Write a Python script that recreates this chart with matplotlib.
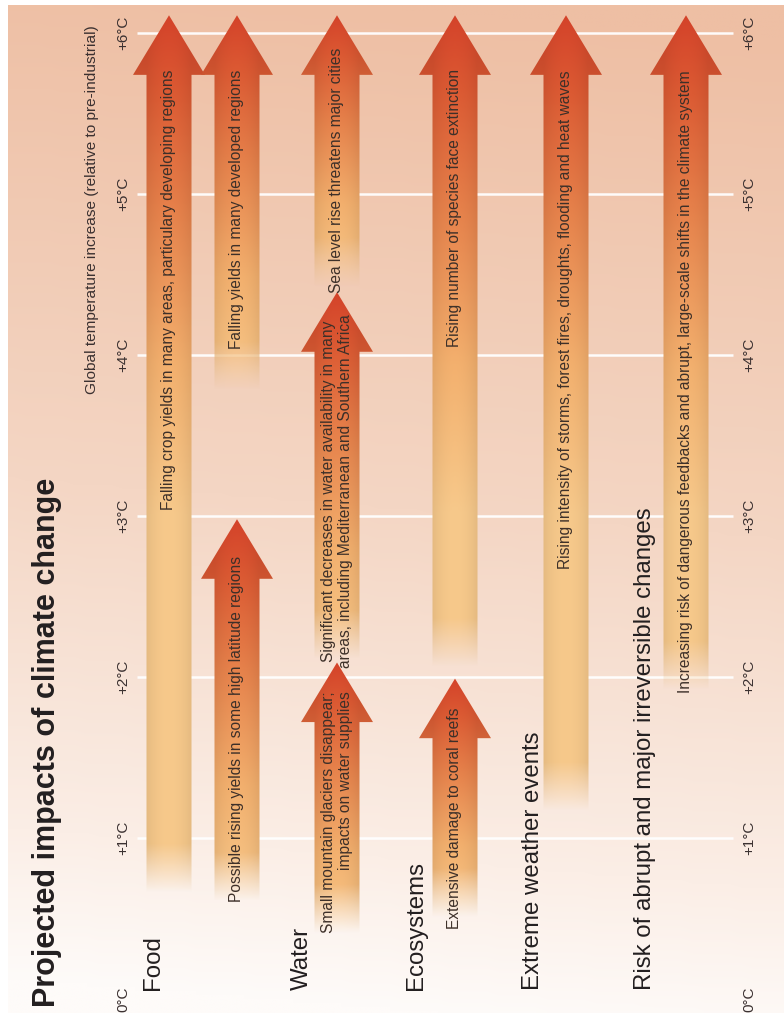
import numpy as np
import matplotlib.pyplot as plt
from matplotlib.colors import LinearSegmentedColormap
from matplotlib.patches import Polygon

plt.rcParams['font.family'] = ['Liberation Sans', 'DejaVu Sans']

# data
temp_ticks = [0, 1, 2, 3, 4, 5, 6]
tick_labels = ['0°C', '+1°C', '+2°C', '+3°C', '+4°C', '+5°C', '+6°C']

categories = ['Food', 'Water', 'Ecosystems', 'Extreme weather events',
              'Risk of abrupt and major irreversible changes']

impact_text = [
    'Falling crop yields in many areas, particulary developing regions',
    'Falling yields in many developed regions',
    'Possible rising yields in some high latitude regions',
    'Sea level rise threatens major cities',
    'Significant decreases in water availability in many\nareas, including Mediterranean and Southern Africa',
    'Small mountain glaciers disappear;\nimpacts on water supplies',
    'Rising number of species face extinction',
    'Extensive damage to coral reefs',
    'Rising intensity of storms, forest fires, droughts, flooding and heat waves',
    'Increasing risk of dangerous feedbacks and abrupt, large-scale shifts in the climate system',
]
impact_col = [0, 1, 1, 2, 2, 2, 3, 3, 4, 5]
impact_from = [0.66, 3.78, 0.61, 4.43, 2.11, 0.41, 2.06, 0.51, 1.17, 1.92]
impact_to = [6.11, 6.11, 2.98, 6.11, 4.39, 2.09, 6.11, 1.99, 6.11, 6.11]

# layout (x in pixels across the page, y in degrees)
col_x = [169, 237, 337, 455, 566, 686]
cat_x = [153, 302, 416, 533, 645]
text_top = [5.77, 5.77, 2.75, 5.91, 4.25, 1.91, 5.78, 1.81, 5.77, 5.77]
text_align = ['center'] * 5 + ['right'] + ['center'] * 4
px = 161.0
y_lo, y_hi = (999 - 1025) / px, 999 / px

fig = plt.figure(figsize=(7.84, 10.25), dpi=100)
ax = fig.add_axes([0, 0, 1, 1])
ax.set_axis_off()

# background
bg_cmap = LinearSegmentedColormap.from_list(
    'bg', [(0, '#fefbf9'), (0.15, '#fbeee6'), (0.5, '#f4d6c4'), (1, '#eebfa4')])
g = np.linspace(0, 1, 256)[:, None] * np.ones((1, 64))
xs = np.linspace(0, 1, 64)[None, :]
bg = bg_cmap(np.clip(g + 0.06 * xs - 0.03, 0, 1))
ax.imshow(bg, extent=[8, 784, (999 - 1013) / px, (999 - 5) / px], origin='lower',
          aspect='auto', interpolation='bilinear', zorder=0)

# grid lines
ax.hlines(temp_ticks[1:], 137, 733, color='white', lw=1.8, alpha=0.95, zorder=1)

# arrows
arrow_cmap = LinearSegmentedColormap.from_list(
    'arr', [(0, '#f7c98b'), (0.3, '#f3b06e'), (0.6, '#e7834c'), (0.85, '#dc5a33'), (1, '#d4432a')])


def gradient_arrow(x, t0, t1):
    sw, hw, hl = 45, 72, 0.37
    tb = t1 - hl
    poly = Polygon([(x - sw / 2, t0), (x + sw / 2, t0), (x + sw / 2, tb), (x + hw / 2, tb),
                    (x, t1), (x - hw / 2, tb), (x - sw / 2, tb)],
                   closed=True, fc='none', ec='none')
    ax.add_patch(poly)
    ty = np.linspace(t0, t1, 400)[:, None]
    u = np.linspace(-hw / 2, hw / 2, 48)[None, :]
    span = min(t1 - t0, 3.1)
    v = np.clip(1 - (t1 - ty) / span, 0, 1) * np.ones_like(u)
    rgba = arrow_cmap(v)
    edge = np.clip(np.abs(u) / (sw / 2), 0, 1)
    rgba[..., :3] *= (1 - 0.07 * edge ** 2)[..., None] * np.ones_like(v)[..., None]
    rgba[..., 3] = np.clip((ty - t0) / 0.3, 0, 1) * np.ones_like(u)
    im = ax.imshow(rgba, extent=[x - hw / 2, x + hw / 2, t0, t1], origin='lower',
                   aspect='auto', interpolation='bilinear', zorder=3)
    im.set_clip_path(poly)


for i, txt in enumerate(impact_text):
    x = col_x[impact_col[i]]
    gradient_arrow(x, impact_from[i], impact_to[i])
    ax.text(x, text_top[i], txt, rotation=90, ha='center', va='top', fontsize=11.2,
            color='#3d3029', multialignment=text_align[i], linespacing=1.15, zorder=4)

# temperature labels
for t, lab in zip(temp_ticks, tick_labels):
    ax.text(123, t, lab, rotation=90, ha='center', va='center', fontsize=11, color='#3a3030', zorder=4)
    ax.text(749, t, lab, rotation=90, ha='center', va='center', fontsize=11, color='#3a3030', zorder=4)

ax.text(92, 6.05, 'Global temperature increase (relative to pre-industrial)', rotation=90,
        ha='center', va='top', fontsize=11.1, color='#3a3030', zorder=4)

for name, cx in zip(categories, cat_x):
    ax.text(cx, 0.056, name, rotation=90, ha='center', va='bottom', fontsize=17.3, color='#231f20', zorder=4)

ax.text(47, -0.05, 'Projected impacts of climate change', rotation=90, ha='center', va='bottom',
        fontsize=22, fontweight='bold', color='#231f20', zorder=4)

ax.set_xlim(0, 784)
ax.set_ylim(y_lo, y_hi)

plt.savefig('out.png', dpi=100, facecolor='white')
